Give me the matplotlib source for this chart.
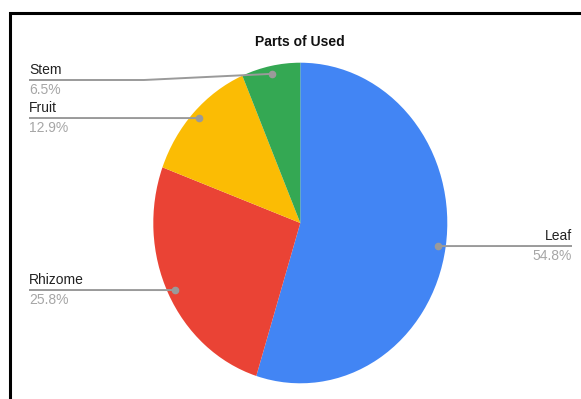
import numpy as np
import matplotlib
matplotlib.use("Agg")
import matplotlib.pyplot as plt
from matplotlib.patches import Rectangle

plt.rcParams['font.family'] = ['Liberation Sans', 'DejaVu Sans']

# data
parts = ["Leaf", "Rhizome", "Fruit", "Stem"]
counts = [17, 8, 4, 2]
colors = ["#4285F4", "#EA4335", "#FBBC04", "#34A853"]

W, H = 581, 399
CX, CY = 300.3, 223.0   # pie center in pixels
RX, RY = 147.0, 160.3   # pie is slightly stretched vertically

# label layout in pixels: text x, line y, elbow x, side
label_pos = {
    "Leaf":    (572, 246, None, "right"),
    "Rhizome": (29, 290, None, "left"),
    "Fruit":   (29, 118, None, "left"),
    "Stem":    (29, 80, 144, "left"),
}


def to_data(x, y):
    return (x - CX) / RX, (CY - y) / RY


fig = plt.figure(figsize=(W / 100, H / 100), dpi=100)
ax = fig.add_axes([0, 0, 1, 1])

wedges, _ = ax.pie(counts, colors=colors, startangle=90, counterclock=False,
                   radius=1, center=(0, 0), wedgeprops=dict(linewidth=0))
ax.set_aspect('auto')
ax.set_xlim(-CX / RX, (W - CX) / RX)
ax.set_ylim((CY - H) / RY, CY / RY)
ax.axis('off')

total = sum(counts)
for w, name, c in zip(wedges, parts, counts):
    mid = np.deg2rad((w.theta1 + w.theta2) / 2)
    dx, dy = 0.95 * np.cos(mid), 0.95 * np.sin(mid)
    tx, ly, elbow, side = label_pos[name]
    pct = f"{100 * c / total:.1f}%"
    if side == "right":
        xs = [dx, to_data(tx, ly)[0]]
        ys = [dy, to_data(tx, ly)[1]]
        ha = "right"
    else:
        pts = [to_data(tx, ly)]
        if elbow is not None:
            pts.append(to_data(elbow, ly))
        pts.append((dx, dy))
        xs = [p[0] for p in pts]
        ys = [p[1] for p in pts]
        ha = "left"
    ax.plot(xs, ys, color="#9a9a9a", lw=1.4, solid_capstyle="butt", zorder=3)
    ax.plot([dx], [dy], "o", color="#9a9a9a", ms=4.5, zorder=4)
    nx, ny = to_data(tx, ly - 10)
    ax.text(nx, ny, name, ha=ha, va="center", fontsize=10, color="#222222")
    px, py = to_data(tx, ly + 9.5)
    ax.text(px, py, pct, ha=ha, va="center", fontsize=10, color="#a6a6a6")

fig.text(300 / W, 1 - 42 / H, "Parts of Used", ha="center", va="center",
         fontsize=10, fontweight="bold", color="#111111")

# black frame, only top and left sides are in view
fig.patches.append(Rectangle((10 / W, -0.1), 1.2, 1 - 13 / H + 0.1,
                             transform=fig.transFigure, fill=False,
                             edgecolor="black", linewidth=2.2))

fig.savefig("out.png", dpi=100)
